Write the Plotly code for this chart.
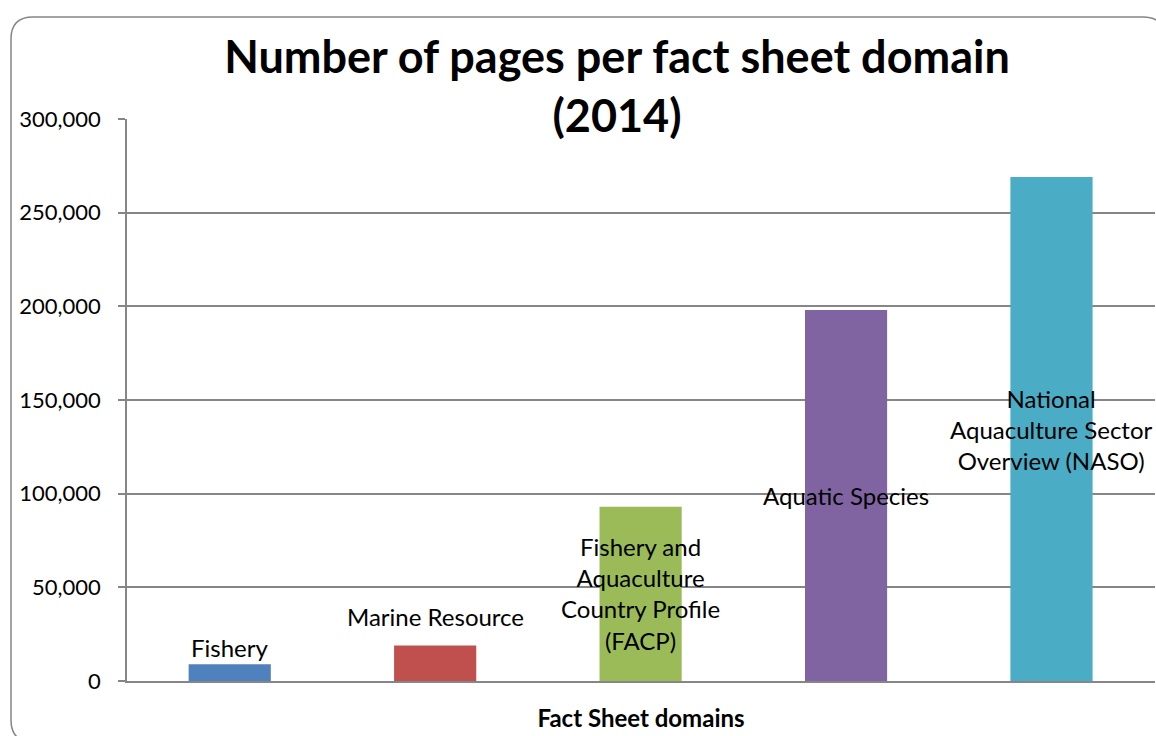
import plotly.graph_objects as go

# data
domains = ["Fishery", "Marine Resource", "Fishery and Aquaculture Country Profile (FACP)",
           "Aquatic Species", "National Aquaculture Sector Overview (NASO)"]
pages = [9000, 19000, 93000, 198000, 269000]
label_text = ["Fishery", "Marine Resource",
              "Fishery and<br>Aquaculture<br>Country Profile<br>(FACP)",
              "Aquatic Species",
              "National<br>Aquaculture Sector<br>Overview (NASO)"]
y_ticks = [0, 50000, 100000, 150000, 200000, 250000, 300000]

BAR_COLOURS = ["#4F81BD", "#C0504D", "#9BBB59", "#8064A2", "#4BACC6"]
FONT = "Lato"
GRID = "#868686"

W, H = 1156, 736
L, R, T, B = 127, 1, 119, 736 - 681


def px(x):
    return (x - L) / (W - L - R)


def py(y):
    return (H - B - y) / (H - T - B)


fig = go.Figure()
fig.add_trace(go.Bar(
    x=domains, y=pages,
    marker=dict(color=BAR_COLOURS, line=dict(width=0)),
    hoverinfo="x+y",
))

# data labels: centred in the tall bars, above the short ones
for name, val, txt in zip(domains, pages, label_text):
    short = val < 50000
    fig.add_annotation(
        x=name, y=val if short else val / 2,
        text=txt, showarrow=False,
        yanchor="bottom" if short else "middle",
        yshift=(0 if val < 10000 else 12) if short else 0,
        font=dict(family=FONT, size=24, color="black"),
    )

# rounded chart border
x0, y0, x1, y1, r = 11, 17, 1165, 742, 22
path = (
    f"M {px(x0 + r)},{py(y0)} L {px(x1 - r)},{py(y0)} "
    f"Q {px(x1)},{py(y0)} {px(x1)},{py(y0 + r)} "
    f"L {px(x1)},{py(y1 - r)} Q {px(x1)},{py(y1)} {px(x1 - r)},{py(y1)} "
    f"L {px(x0 + r)},{py(y1)} Q {px(x0)},{py(y1)} {px(x0)},{py(y1 - r)} "
    f"L {px(x0)},{py(y0 + r)} Q {px(x0)},{py(y0)} {px(x0 + r)},{py(y0)} Z"
)
fig.add_shape(type="path", path=path, xref="paper", yref="paper",
              line=dict(color=GRID, width=1.5), layer="above")

fig.update_layout(
    width=W, height=H,
    margin=dict(l=L, r=R, t=T, b=B),
    paper_bgcolor="white",
    plot_bgcolor="white",
    bargap=0.6,
    showlegend=False,
    title=dict(
        text="<b>Number of pages per fact sheet domain<br>(2014)</b>",
        x=617 / W, xanchor="center", y=1 - 73 / H, yanchor="top",
        font=dict(family=FONT, size=45, color="black"),
    ),
    xaxis=dict(
        showticklabels=False, ticks="",
        showline=True, linecolor=GRID, linewidth=1.5,
        title=dict(text="<b>Fact Sheet domains</b>", standoff=28,
                   font=dict(family=FONT, size=24, color="black")),
    ),
    yaxis=dict(
        range=[0, 300000], tickvals=y_ticks, tickformat=",d",
        showgrid=True, gridcolor=GRID, gridwidth=1.5,
        showline=True, linecolor=GRID, linewidth=1.5,
        ticks="outside", ticklen=7, tickcolor=GRID, tickwidth=1.5,
        ticklabelstandoff=13, zeroline=False,
        tickfont=dict(family=FONT, size=22, color="black"),
    ),
)

# drop the browser's default body margin so the chart fills the window
fig.write_html("out.html",
               config={"displayModeBar": False},
               post_script="document.body.style.margin='0';"
                           "document.body.style.overflow='hidden';")
